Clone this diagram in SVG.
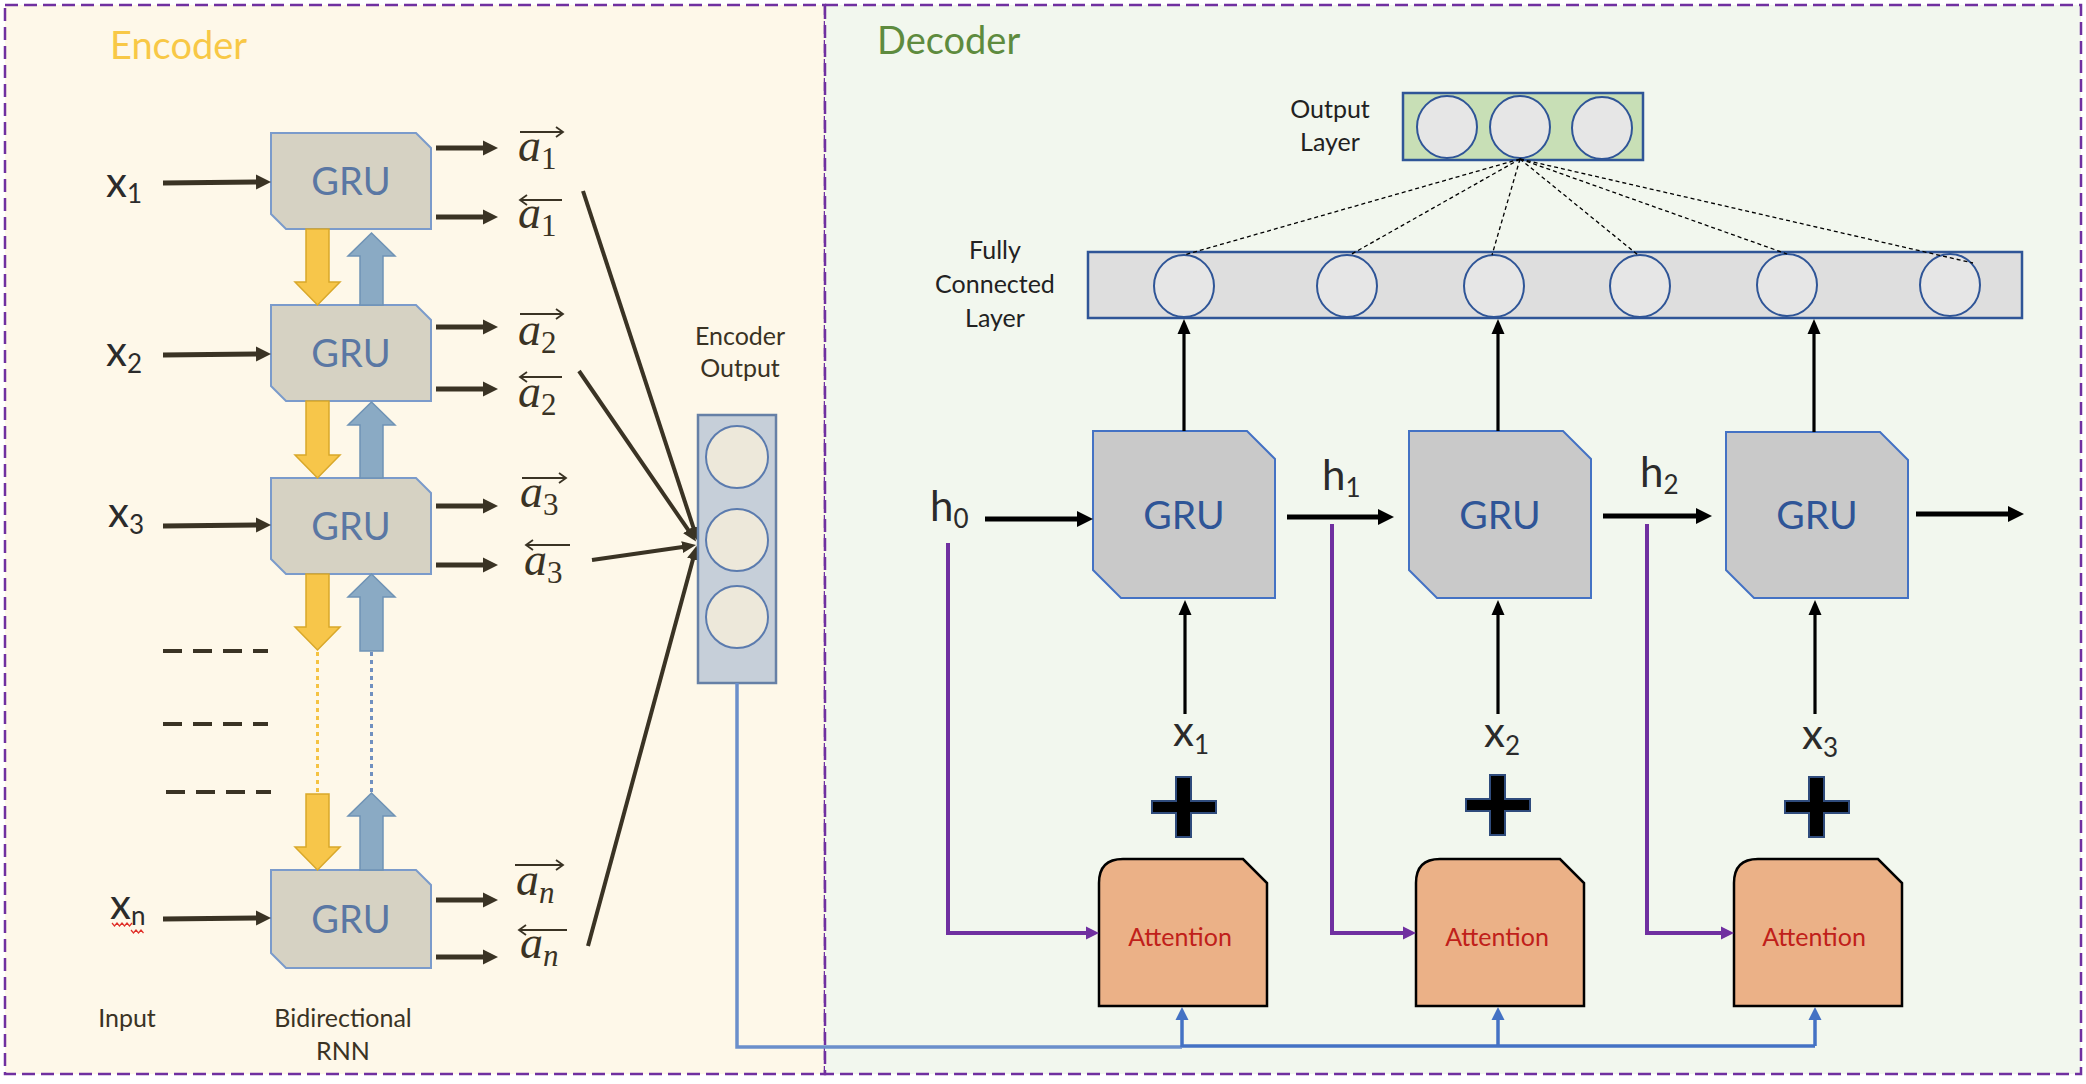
<svg xmlns="http://www.w3.org/2000/svg" width="2086" height="1084" viewBox="0 0 2086 1084">
<defs>
<style>
.t{font-family:Lato,'Open Sans','Liberation Sans',sans-serif;}
.panel{stroke:#7030A0;stroke-width:2.5;stroke-dasharray:13 6;}
.egru{fill:#D6D2C3;stroke:#7B9BCB;stroke-width:2;}
.egt{font-size:38px;fill:#5A77A3;text-anchor:middle;}
.dgru{fill:#C9C9C9;stroke:#4472C4;stroke-width:2;}
.dgt{font-size:39px;fill:#2F5597;text-anchor:middle;}
.lab{font-size:25px;fill:#222;text-anchor:middle;}
.elab{font-size:25px;fill:#3A3324;text-anchor:middle;}
.xl{font-size:42px;fill:#2B2B2B;}
.sub{font-size:26px;}
.am{font-family:'Liberation Serif',serif;font-style:italic;font-size:46px;fill:#3A3324;}
.ams{font-style:normal;font-size:31px;}
.amn{font-style:italic;font-size:31px;}
.ov{stroke:#3A3324;stroke-width:1.8;fill:none;}
.ea{stroke:#3A3324;stroke-width:5;fill:none;marker-end:url(#mEnc);}
.ec{stroke:#3A3324;stroke-width:4;fill:none;marker-end:url(#mConv);}
.ylw{fill:#F7C64A;stroke:#D9A82A;stroke-width:1.5;}
.blu{fill:#8AAAC4;stroke:#6F93B5;stroke-width:1.5;}
.dash{stroke:#3A3324;stroke-width:4;stroke-dasharray:19 11;}
.da{stroke:#000;stroke-width:5;fill:none;marker-end:url(#mDec);}
.du{stroke:#000;stroke-width:3.2;fill:none;marker-end:url(#mUp);}
.pu{stroke:#7030A0;stroke-width:4;fill:none;marker-end:url(#mPur);}
.bu{stroke:#4472C4;stroke-width:3.5;fill:none;marker-end:url(#mBlu);}
.att{fill:#EBB187;stroke:#000;stroke-width:2.5;}
.att-t{font-size:25px;fill:#C0201A;text-anchor:middle;}
.plus{fill:#000;stroke:#2F4B7C;stroke-width:2;}
.node{fill:#E6E6E6;stroke:#2F5597;stroke-width:2;}
.fc{stroke:#000;stroke-width:1.3;stroke-dasharray:4 3;fill:none;}
</style>
<marker id="mEnc" markerUnits="userSpaceOnUse" markerWidth="16" markerHeight="16" refX="3" refY="8" orient="auto"><path d="M0,0.5 L15,8 L0,15.5 Z" fill="#3A3324"/></marker>
<marker id="mConv" markerUnits="userSpaceOnUse" markerWidth="16" markerHeight="14" refX="4" refY="7" orient="auto"><path d="M0,1 L14,7 L0,13 Z" fill="#3A3324"/></marker>
<marker id="mDec" markerUnits="userSpaceOnUse" markerWidth="18" markerHeight="18" refX="3" refY="9" orient="auto"><path d="M0,1 L16,9 L0,17 Z" fill="#000"/></marker>
<marker id="mUp" markerUnits="userSpaceOnUse" markerWidth="16" markerHeight="14" refX="3" refY="7" orient="auto"><path d="M0,0.5 L15,7 L0,13.5 Z" fill="#000"/></marker>
<marker id="mPur" markerUnits="userSpaceOnUse" markerWidth="14" markerHeight="14" refX="3" refY="7" orient="auto"><path d="M0,0.5 L13,7 L0,13.5 Z" fill="#7030A0"/></marker>
<marker id="mBlu" markerUnits="userSpaceOnUse" markerWidth="14" markerHeight="14" refX="3" refY="7" orient="auto"><path d="M0,0.5 L13,7 L0,13.5 Z" fill="#4472C4"/></marker>
</defs>

<!-- panels -->
<g id="encoder-panel">
<rect x="5" y="5" width="820" height="1069" fill="#FEF8E9" class="panel"/>
<text class="t" x="110" y="59" font-size="38" fill="#F8C846">Encoder</text>
</g>
<g id="decoder-panel">
<rect x="825" y="5" width="1256" height="1069" fill="#F2F7EE" class="panel"/>
<text class="t" x="877" y="54" font-size="38" fill="#5E8B3E">Decoder</text>
</g>

<!-- encoder inputs -->
<g id="enc-inputs" class="t">
<text class="xl" x="106" y="197">x<tspan class="sub" dy="6">1</tspan></text>
<text class="xl" x="106" y="366">x<tspan class="sub" dy="7">2</tspan></text>
<text class="xl" x="108" y="527">x<tspan class="sub" dy="7">3</tspan></text>
<text class="xl" x="110" y="919">x<tspan class="sub" dy="6">n</tspan></text>
<path d="M112,923 l2.5,3 l2.5,-3 l2.5,3 l2.5,-3 l2.5,3 l2.5,-3 l2.5,3 l2.5,-3 M131,930 l2.5,3 l2.5,-3 l2.5,3 l2.5,-3 l2.5,3" stroke="#E0302A" stroke-width="1.2" fill="none"/>
<g class="dashes">
<line class="dash" x1="163" y1="651" x2="268" y2="651"/>
<line class="dash" x1="163" y1="724" x2="268" y2="724"/>
<line class="dash" x1="166" y1="792" x2="271" y2="792"/>
</g>
<text class="elab" x="127" y="1027">Input</text>
<text class="elab" x="343" y="1027">Bidirectional</text>
<text class="elab" x="343" y="1060">RNN</text>
</g>

<!-- encoder GRU nodes -->
<g id="enc-gru1"><path class="egru" d="M271,133 H416 L431,148 V229 H286 L271,214 Z"/><text class="t egt" x="351" y="195">GRU</text></g>
<g id="enc-gru2"><path class="egru" d="M271,305 H416 L431,320 V401 H286 L271,386 Z"/><text class="t egt" x="351" y="367">GRU</text></g>
<g id="enc-gru3"><path class="egru" d="M271,478 H416 L431,493 V574 H286 L271,559 Z"/><text class="t egt" x="351" y="540">GRU</text></g>
<g id="enc-grun"><path class="egru" d="M271,870 H416 L431,885 V968 H286 L271,953 Z"/><text class="t egt" x="351" y="933">GRU</text></g>

<!-- bidirectional block arrows -->
<g id="enc-flow">
<path class="ylw" d="M306,229 H329 V282 H340 L317.5,305 L295,282 H306 Z"/>
<path class="blu" d="M360,305 H383 V256 H395 L371.5,233 L348,256 H360 Z"/>
<path class="ylw" d="M306,401 H329 V455 H340 L317.5,478 L295,455 H306 Z"/>
<path class="blu" d="M360,478 H383 V425 H395 L371.5,402 L348,425 H360 Z"/>
<path class="ylw" d="M306,574 H329 V627 H340 L317.5,650 L295,627 H306 Z"/>
<path class="blu" d="M360,651 H383 V597 H395 L371.5,574 L348,597 H360 Z"/>
<line x1="317.5" y1="652" x2="317.5" y2="793" stroke="#F5C342" stroke-width="3" stroke-dasharray="4 4"/>
<line x1="371.5" y1="652" x2="371.5" y2="793" stroke="#7090C0" stroke-width="3" stroke-dasharray="4 4"/>
<path class="ylw" d="M306,794 H329 V847 H340 L317.5,870 L295,847 H306 Z"/>
<path class="blu" d="M360,870 H383 V816 H395 L371.5,793 L348,816 H360 Z"/>
</g>

<!-- encoder arrows -->
<g id="enc-connectors">
<line class="ea" x1="163" y1="183" x2="259" y2="182"/>
<line class="ea" x1="163" y1="355" x2="259" y2="354"/>
<line class="ea" x1="163" y1="526" x2="259" y2="525"/>
<line class="ea" x1="163" y1="919" x2="259" y2="918"/>
<line class="ea" x1="436" y1="148" x2="486" y2="148"/>
<line class="ea" x1="436" y1="217" x2="486" y2="217"/>
<line class="ea" x1="436" y1="327" x2="486" y2="327"/>
<line class="ea" x1="436" y1="389" x2="486" y2="389"/>
<line class="ea" x1="436" y1="506" x2="486" y2="506"/>
<line class="ea" x1="436" y1="565" x2="486" y2="565"/>
<line class="ea" x1="436" y1="900" x2="486" y2="900"/>
<line class="ea" x1="436" y1="957" x2="486" y2="957"/>
<line class="ec" x1="583" y1="191" x2="694.7" y2="531.5"/>
<line class="ec" x1="579" y1="371" x2="690.4" y2="533.2"/>
<line class="ec" x1="592" y1="560" x2="686.1" y2="546.5"/>
<line class="ec" x1="588" y1="946" x2="694" y2="555.5"/>
</g>

<!-- encoder state labels -->
<g id="enc-states">
<text class="am" x="518" y="161">a<tspan class="ams" dy="8">1</tspan></text>
<path class="ov" d="M520,132 H563 M556,127 L563,132 L556,137"/>
<text class="am" x="518" y="228">a<tspan class="ams" dy="8">1</tspan></text>
<path class="ov" d="M520,200 H562 M527,195 L520,200 L527,205"/>
<text class="am" x="518" y="345">a<tspan class="ams" dy="8">2</tspan></text>
<path class="ov" d="M520,314 H563 M556,309 L563,314 L556,319"/>
<text class="am" x="518" y="407">a<tspan class="ams" dy="8">2</tspan></text>
<path class="ov" d="M520,377 H562 M527,372 L520,377 L527,382"/>
<text class="am" x="520" y="507">a<tspan class="ams" dy="8">3</tspan></text>
<path class="ov" d="M522,478 H566 M559,473 L566,478 L559,483"/>
<text class="am" x="524" y="575">a<tspan class="ams" dy="8">3</tspan></text>
<path class="ov" d="M526,545 H570 M533,540 L526,545 L533,550"/>
<text class="am" x="516" y="895">a<tspan class="amn" dy="8">n</tspan></text>
<path class="ov" d="M515,865 H563 M556,860 L563,865 L556,870"/>
<text class="am" x="520" y="958">a<tspan class="amn" dy="8">n</tspan></text>
<path class="ov" d="M519,930 H567 M526,925 L519,930 L526,935"/>
</g>

<!-- encoder output -->
<g id="encoder-output">
<text class="t elab" x="740" y="345">Encoder</text>
<text class="t elab" x="740" y="377">Output</text>
<rect x="698" y="415" width="78" height="268" fill="#C6CFD9" stroke="#6680A6" stroke-width="2.5"/>
<circle cx="737" cy="457" r="31" fill="#EDE8DA" stroke="#5B7BAE" stroke-width="2"/>
<circle cx="737" cy="540" r="31" fill="#EDE8DA" stroke="#5B7BAE" stroke-width="2"/>
<circle cx="737" cy="617" r="31" fill="#EDE8DA" stroke="#5B7BAE" stroke-width="2"/>
</g>

<!-- decoder output layer -->
<g id="output-layer">
<text class="t lab" x="1330" y="118">Output</text>
<text class="t lab" x="1330" y="151">Layer</text>
<rect x="1403" y="93" width="240" height="67" fill="#C8DFB6" stroke="#2F5597" stroke-width="2.5"/>
<ellipse class="node" cx="1447" cy="127" rx="30" ry="31"/>
<ellipse class="node" cx="1520" cy="127" rx="30" ry="31"/>
<ellipse class="node" cx="1602" cy="128" rx="30" ry="31"/>
</g>

<!-- fully connected layer -->
<g id="fc-layer">
<text class="t lab" x="995" y="259">Fully</text>
<text class="t lab" x="995" y="293">Connected</text>
<text class="t lab" x="995" y="327">Layer</text>
<rect x="1088" y="252" width="934" height="66" fill="#DEDEDE" stroke="#2F5597" stroke-width="2.5"/>
<ellipse class="node" cx="1184" cy="286" rx="30" ry="31"/>
<ellipse class="node" cx="1347" cy="286" rx="30" ry="31"/>
<ellipse class="node" cx="1494" cy="286" rx="30" ry="31"/>
<ellipse class="node" cx="1640" cy="286" rx="30" ry="31"/>
<ellipse class="node" cx="1787" cy="285" rx="30" ry="31"/>
<ellipse class="node" cx="1950" cy="285" rx="30" ry="31"/>
</g>

<!-- decoder GRU nodes -->
<g id="dec-gru1"><path class="dgru" d="M1093,431 H1247 L1275,459 V598 H1121 L1093,570 Z"/><text class="t dgt" x="1184" y="529">GRU</text></g>
<g id="dec-gru2"><path class="dgru" d="M1409,431 H1563 L1591,459 V598 H1437 L1409,570 Z"/><text class="t dgt" x="1500" y="529">GRU</text></g>
<g id="dec-gru3"><path class="dgru" d="M1726,432 H1880 L1908,460 V598 H1754 L1726,570 Z"/><text class="t dgt" x="1817" y="529">GRU</text></g>

<!-- attention nodes -->
<g id="att1"><path class="att" d="M1099,883 Q1099,859 1123,859 H1243 L1267,883 V1006 H1099 Z"/><text class="t att-t" x="1180" y="946">Attention</text></g>
<g id="att2"><path class="att" d="M1416,883 Q1416,859 1440,859 H1560 L1584,883 V1006 H1416 Z"/><text class="t att-t" x="1497" y="946">Attention</text></g>
<g id="att3"><path class="att" d="M1734,883 Q1734,859 1758,859 H1878 L1902,883 V1006 H1734 Z"/><text class="t att-t" x="1814" y="946">Attention</text></g>

<!-- decoder labels -->
<g id="dec-labels" class="t">
<text class="xl" x="930" y="521" font-size="43">h<tspan class="sub" dy="7">0</tspan></text>
<text class="xl" x="1322" y="490" font-size="43">h<tspan class="sub" dy="7">1</tspan></text>
<text class="xl" x="1640" y="487" font-size="43">h<tspan class="sub" dy="7">2</tspan></text>
<text class="xl" x="1173" y="746">x<tspan class="sub" dy="8">1</tspan></text>
<text class="xl" x="1484" y="747">x<tspan class="sub" dy="8">2</tspan></text>
<text class="xl" x="1802" y="749">x<tspan class="sub" dy="8">3</tspan></text>
</g>

<!-- plus signs -->
<g id="plus-signs">
<path class="plus" d="M1176,777 H1191 V801 H1216 V813 H1191 V837 H1176 V813 H1152 V801 H1176 Z"/>
<path class="plus" d="M1490,775 H1505 V799 H1530 V811 H1505 V835 H1490 V811 H1466 V799 H1490 Z"/>
<path class="plus" d="M1809,777 H1824 V801 H1849 V813 H1824 V837 H1809 V813 H1785 V801 H1809 Z"/>
</g>

<!-- decoder connectors -->
<g id="dec-connectors">
<line class="da" x1="985" y1="519" x2="1080" y2="519"/>
<line class="da" x1="1287" y1="517" x2="1381" y2="517"/>
<line class="da" x1="1603" y1="516" x2="1699" y2="516"/>
<line class="da" x1="1916" y1="514" x2="2011" y2="514"/>
<line class="du" x1="1184" y1="431" x2="1184" y2="331"/>
<line class="du" x1="1498" y1="431" x2="1498" y2="331"/>
<line class="du" x1="1814" y1="432" x2="1814" y2="331"/>
<line class="du" x1="1185" y1="714" x2="1185" y2="612"/>
<line class="du" x1="1498" y1="714" x2="1498" y2="612"/>
<line class="du" x1="1815" y1="714" x2="1815" y2="612"/>
<path class="pu" d="M948,543 V933 H1089"/>
<path class="pu" d="M1332,524 V933 H1406"/>
<path class="pu" d="M1647,524 V933 H1724"/>
<path d="M737,683 V1047 H1182" stroke="#6B8FCB" stroke-width="3.5" fill="none"/>
<path d="M1182,1046 H1815" stroke="#4472C4" stroke-width="3.5" fill="none"/>
<line class="bu" x1="1182" y1="1047" x2="1182" y2="1017"/>
<line class="bu" x1="1498" y1="1046" x2="1498" y2="1017"/>
<line class="bu" x1="1815" y1="1046" x2="1815" y2="1017"/>
<g id="fc-links">
<line class="fc" x1="1520" y1="159" x2="1184" y2="255"/>
<line class="fc" x1="1520" y1="159" x2="1350" y2="255"/>
<line class="fc" x1="1520" y1="159" x2="1492" y2="255"/>
<line class="fc" x1="1520" y1="159" x2="1638" y2="255"/>
<line class="fc" x1="1520" y1="159" x2="1787" y2="254"/>
<line class="fc" x1="1520" y1="159" x2="1973" y2="263"/>
</g>
</g>
</svg>
